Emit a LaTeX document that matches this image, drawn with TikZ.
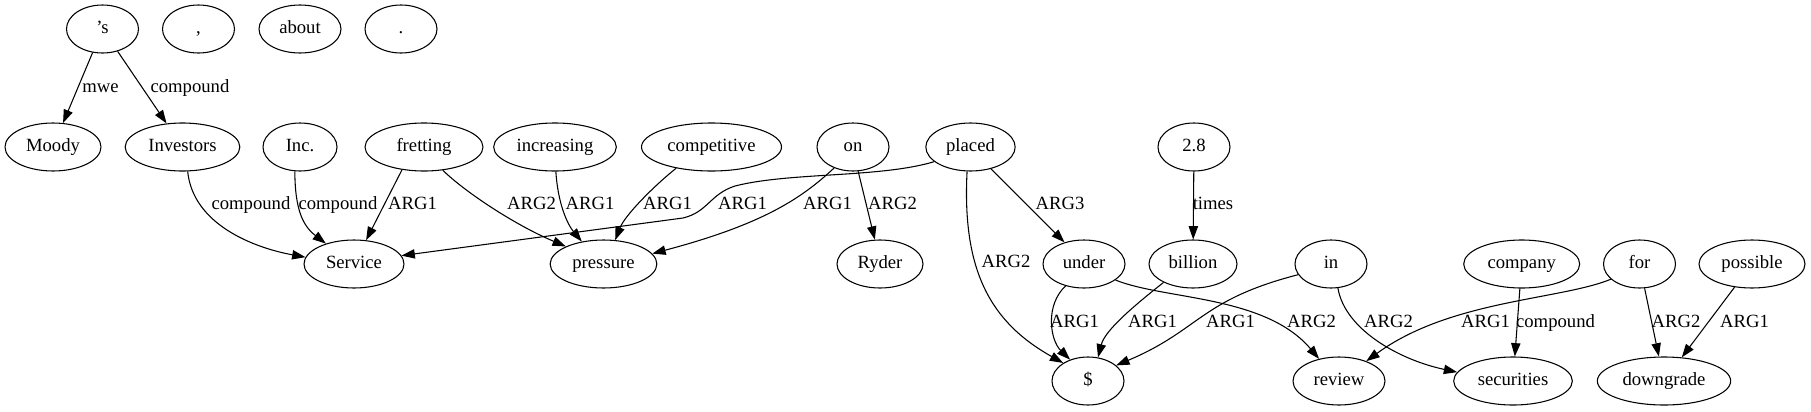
\documentclass[tikz,border=0pt]{standalone}
\usepackage{fontspec}
\setmainfont{Liberation Serif}
\usetikzlibrary{shapes.geometric,arrows.meta}
\begin{document}
\begin{tikzpicture}[x=0.75pt,y=-0.75pt,
  word/.style={draw,ellipse,inner sep=0pt,minimum height=36pt,minimum width=54pt,text height=10pt,text depth=3pt,font=\fontsize{14pt}{16pt}\selectfont,line width=0.8pt},
  lab/.style={inner sep=0pt,text height=10pt,text depth=3pt,font=\fontsize{14pt}{16pt}\selectfont},
  edge/.style={draw,line width=0.8pt,-{Triangle[length=10pt,width=7pt]}}]
\useasboundingbox (0,0) rectangle (1811,411);
% row 1
\node[word] (s) at (102.5,29) {’s};
\node[word] (comma) at (198.5,29) {,};
\node[word,minimum width=61.5pt] (about) at (300,29) {about};
\node[word] (dot) at (401,29) {.};
% row 2
\node[word,minimum width=72pt] (moody) at (53,147) {Moody};
\node[word,minimum width=86pt] (inv) at (182.5,147) {Investors};
\node[word,minimum width=55.5pt] (inc) at (300,147) {Inc.};
\node[word,minimum width=88.5pt] (fret) at (424,147) {fretting};
\node[word,minimum width=92pt] (incr) at (555,147) {increasing};
\node[word,minimum width=105pt] (comp) at (711.5,147) {competitive};
\node[word] (on) at (853,147) {on};
\node[word,minimum width=67pt] (placed) at (970.5,147) {placed};
\node[word] (two8) at (1194,147) {2.8};
% row 3
\node[word,minimum width=75pt] (svc) at (354,264) {Service};
\node[word,minimum width=80pt] (press) at (603.5,264) {pressure};
\node[word,minimum width=64.5pt] (ryder) at (880,264) {Ryder};
\node[word,minimum width=61.5pt] (under) at (1084,264) {under};
\node[word,minimum width=66pt] (billion) at (1193,264) {billion};
\node[word] (in) at (1331,264) {in};
\node[word,minimum width=87pt] (company) at (1521.7,264) {company};
\node[word] (for) at (1639.5,264) {for};
\node[word,minimum width=79.5pt] (possible) at (1752,264) {possible};
% row 4
\node[word] (dollar) at (1088,381) {\$};
\node[word,minimum width=69pt] (review) at (1339,381) {review};
\node[word,minimum width=89pt] (sec) at (1513,381) {securities};
\node[word,minimum width=100pt] (down) at (1664,381) {downgrade};
% edges
\path[edge] (s) -- (moody);
\path[edge] (s) -- (inv);
\path[edge] (inv.-78) .. controls (193,225) and (255,248) .. (svc.172);
\path[edge] (inc.-102) .. controls (295,210) and (303,226) .. (svc.144);
\path[edge] (fret.-134) -- (svc.63);
\path[edge] (fret.-51) .. controls (465,192) and (515,225) .. (press.155);
\path[edge] (incr.-88) .. controls (558,205) and (568,225) .. (press.134);
\path[edge] (comp.-149) .. controls (655,185) and (625,215) .. (press.64);
\path[edge] (placed.-158) .. controls (880,178) and (790,172) .. (735,186) .. controls (710,194) and (708,212) .. (683,218) -- (svc.10);
\path[edge] (on.-132) .. controls (800,200) and (760,225) .. (press.12);
\path[edge] (on.-78) -- (ryder.102);
\path[edge] (placed.-98) .. controls (962,270) and (990,322) .. (dollar.144);
\path[edge] (placed.-47) -- (under.132);
\path[edge] (two8) -- (billion);
\path[edge] (under.-130) .. controls (1045,305) and (1050,340) .. (dollar.130);
\path[edge] (billion.-148) .. controls (1135,305) and (1105,330) .. (dollar.67);
\path[edge] (in.-162) .. controls (1200,300) and (1200,330) .. (dollar.29);
\path[edge] (under.-27) .. controls (1165,300) and (1265,295) .. (review.132);
\path[edge] (in.-74) .. controls (1345,330) and (1400,360) .. (sec.171);
\path[edge] (for.-152) .. controls (1560,300) and (1450,300) .. (review.36);
\path[edge] (company) -- (sec);
\path[edge] (for) -- (down);
\path[edge] (possible) -- (down);
% labels
\node[lab] (l1) at (100.5,88) {mwe};
\node[lab] (l2) at (190,88) {compound};
\node[lab] (l3) at (251,205) {compound};
\node[lab] (l4) at (338,205) {compound};
\node[lab] (l5) at (412.5,205) {ARG1};
\node[lab] (l6) at (531.5,205) {ARG2};
\node[lab] (l7) at (590,205) {ARG1};
\node[lab] (l8) at (667.5,205) {ARG1};
\node[lab] (l9) at (742.5,205) {ARG1};
\node[lab] (l10) at (827.5,205) {ARG1};
\node[lab] (l11) at (892.5,205) {ARG2};
\node[lab] (l12) at (1060,205) {ARG3};
\node[lab] (l13) at (1213,205) {times};
\node[lab] (l14) at (1006,263) {ARG2};
\node[lab] (l15) at (1074.5,323) {ARG1};
\node[lab] (l16) at (1152.5,323) {ARG1};
\node[lab] (l17) at (1230.5,323) {ARG1};
\node[lab] (l18) at (1311.5,323) {ARG2};
\node[lab] (l19) at (1388.5,323) {ARG2};
\node[lab] (l20) at (1485.5,323) {ARG1};
\node[lab] (l21) at (1555.5,323) {compound};
\node[lab] (l22) at (1676,323) {ARG2};
\node[lab] (l23) at (1744.5,323) {ARG1};
\end{tikzpicture}
\end{document}
